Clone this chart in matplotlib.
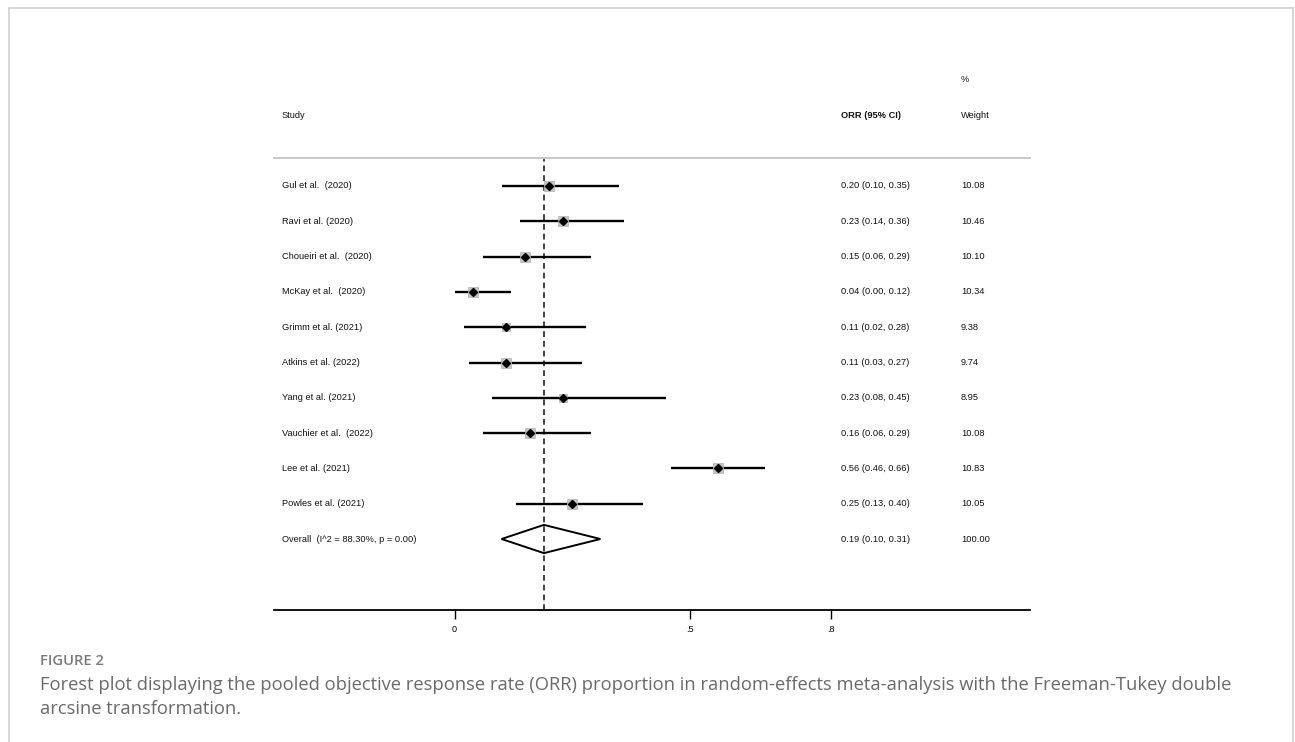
import matplotlib
matplotlib.use("Agg")
import matplotlib.pyplot as plt
from matplotlib.lines import Line2D
from matplotlib.patches import Polygon
import numpy as np

# ---------------- data ----------------
studies = ["Gul et al.  (2020)", "Ravi et al. (2020)", "Choueiri et al.  (2020)",
           "McKay et al.  (2020)", "Grimm et al. (2021)", "Atkins et al. (2022)",
           "Yang et al. (2021)", "Vauchier et al.  (2022)", "Lee et al. (2021)",
           "Powles et al. (2021)"]
orr = [0.20, 0.23, 0.15, 0.04, 0.11, 0.11, 0.23, 0.16, 0.56, 0.25]
ci_low = [0.10, 0.14, 0.06, 0.00, 0.02, 0.03, 0.08, 0.06, 0.46, 0.13]
ci_high = [0.35, 0.36, 0.29, 0.12, 0.28, 0.27, 0.45, 0.29, 0.66, 0.40]
weights = [10.08, 10.46, 10.10, 10.34, 9.38, 9.74, 8.95, 10.08, 10.83, 10.05]
overall_label = "Overall  (I^2 = 88.30%, p = 0.00)"
overall_est = 0.19
overall_low = 0.10
overall_high = 0.31
overall_weight = 100.00
xticks = [0, 0.5, 0.8]
xtick_labels = ["0", ".5", ".8"]

# ---------------- figure ----------------
W, H = 1295, 742
fig = plt.figure(figsize=(W / 100, H / 100), dpi=100)
fig.patch.set_facecolor("white")

# outer light-gray frame
frame_c = "#d0d0d0"
fig.add_artist(Line2D([9 / W, 9 / W], [0, 1 - 8 / H], color=frame_c, lw=1.2, transform=fig.transFigure))
fig.add_artist(Line2D([9 / W, 1293 / W], [1 - 8 / H, 1 - 8 / H], color=frame_c, lw=1.2, transform=fig.transFigure))
fig.add_artist(Line2D([1293 / W, 1293 / W], [0, 1 - 8 / H], color=frame_c, lw=1.2, transform=fig.transFigure))

# axes in pixel layout
px_left, px_right, px_top, px_bot = 274, 1030, 158, 610
ax = fig.add_axes([px_left / W, 1 - px_bot / H, (px_right - px_left) / W, (px_bot - px_top) / H])
x0_px, x08_px = 454.5, 831
ppu = (x08_px - x0_px) / 0.8
ax.set_xlim((px_left - x0_px) / ppu, (px_right - x0_px) / ppu)
row0_px, spacing = 186, 35.3
ax.set_ylim(10 + (px_bot - 539) / spacing, -(row0_px - px_top) / spacing)

def px2x(p):
    return (p - x0_px) / ppu

for s in ["left", "right"]:
    ax.spines[s].set_visible(False)
ax.spines["top"].set_color("#c8c8c8")
ax.spines["top"].set_linewidth(1.4)
ax.spines["bottom"].set_color("black")
ax.spines["bottom"].set_linewidth(1.3)
ax.set_yticks([])
ax.set_xticks(xticks)
ax.set_xticklabels(xtick_labels, fontsize=6.5, family="Liberation Sans")
ax.tick_params(axis="x", direction="out", length=6.5, width=1.0, pad=4.5, color="black")

font = dict(family="Liberation Sans", fontsize=6.7, color="#111111")

rows = np.arange(len(studies))

# overall dashed line
ax.axvline(overall_est, color="#333333", lw=1.3, ls=(0, (3.2, 2.2)), zorder=1)

# CIs
ax.hlines(rows, ci_low, ci_high, color="black", lw=1.7, zorder=2)
# weight boxes
for r, e, w in zip(rows, orr, weights):
    ax.plot(e, r, marker="s", ms=6.6 * np.sqrt(w / 10.0), mfc="#c4c4c4", mec="#b0b0b0",
            mew=0.5, ls="none", zorder=3)
ax.plot(orr, rows, marker="D", ms=4.0, color="black", ls="none", zorder=4)

# overall diamond
r_ov = len(studies)
dh = 0.40
ax.add_patch(Polygon([[overall_low, r_ov], [overall_est, r_ov - dh],
                      [overall_high, r_ov], [overall_est, r_ov + dh]],
                     closed=True, fill=False, ec="black", lw=1.4, zorder=3))

# text columns
x_study = px2x(282)
x_orr = px2x(841)
x_wt = px2x(961)
ax.text(x_study, -2.01, "Study", ha="left", va="center", clip_on=False, **font)
ax.text(x_orr, -2.01, "ORR (95% CI)", ha="left", va="center", clip_on=False, fontweight="bold", **font)
ax.text(x_wt, -2.01, "Weight", ha="left", va="center", clip_on=False, **font)
ax.text(x_wt, -3.03, "%", ha="left", va="center", clip_on=False, **font)

for r, name, e, lo, hi, w in zip(rows, studies, orr, ci_low, ci_high, weights):
    ax.text(x_study, r, name, ha="left", va="center", clip_on=False, **font)
    ax.text(x_orr, r, f"{e:.2f} ({lo:.2f}, {hi:.2f})", ha="left", va="center", clip_on=False, **font)
    ax.text(x_wt, r, f"{w:.2f}", ha="left", va="center", clip_on=False, **font)

ax.text(x_study, r_ov, overall_label, ha="left", va="center", clip_on=False, **font)
ax.text(x_orr, r_ov, f"{overall_est:.2f} ({overall_low:.2f}, {overall_high:.2f})",
        ha="left", va="center", clip_on=False, **font)
ax.text(x_wt, r_ov, f"{overall_weight:.2f}", ha="left", va="center", clip_on=False, **font)

# caption
fig.text(40 / W, 1 - 661 / H, "FIGURE 2", family="Open Sans", fontweight="semibold",
         fontsize=10.6, color="#7a7a7a", ha="left", va="center")
fig.text(40 / W, 1 - 685 / H,
         "Forest plot displaying the pooled objective response rate (ORR) proportion in random-effects "
         "meta-analysis with the Freeman-Tukey double",
         family="Open Sans", fontsize=13.2, color="#6a6a6a", ha="left", va="center")
fig.text(40 / W, 1 - 709 / H, "arcsine transformation.",
         family="Open Sans", fontsize=13.2, color="#6a6a6a", ha="left", va="center")

fig.savefig("out.png", dpi=100, facecolor="white")
